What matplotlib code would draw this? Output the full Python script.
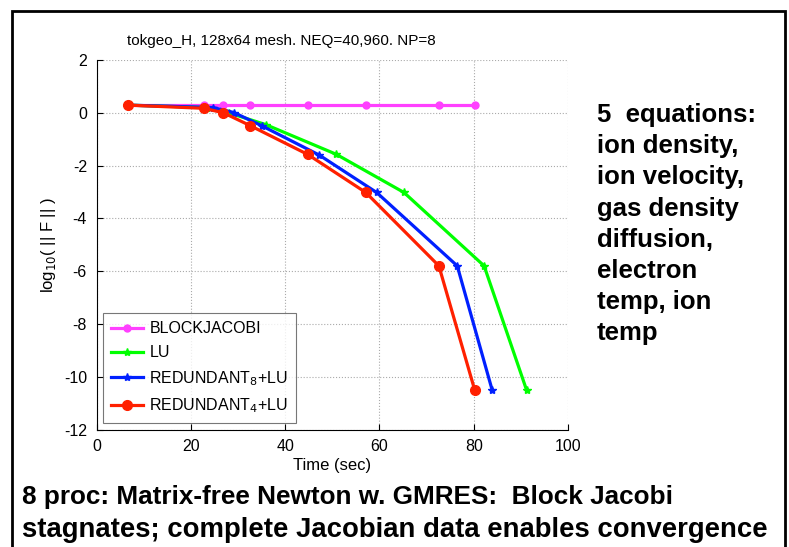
import matplotlib
matplotlib.use('Agg')
import matplotlib.pyplot as plt
from matplotlib.patches import Rectangle

plt.rcParams['font.family'] = ['Liberation Sans', 'DejaVu Sans']
plt.rcParams['axes.unicode_minus'] = False

# data
bj_time = [6.6, 22.7, 26.9, 32.6, 44.8, 57.1, 72.7, 80.2]
bj_res = [0.29, 0.29, 0.29, 0.29, 0.29, 0.29, 0.29, 0.29]

lu_time = [6.6, 23.5, 28.0, 35.9, 50.8, 65.2, 82.2, 91.2]
lu_res = [0.29, 0.2, 0.0, -0.45, -1.57, -3.02, -5.8, -10.5]

r8_time = [6.6, 24.7, 29.1, 35.0, 47.2, 59.4, 76.5, 83.9]
r8_res = [0.29, 0.2, 0.01, -0.49, -1.6, -3.02, -5.8, -10.5]

r4_time = [6.6, 22.7, 26.9, 32.6, 44.8, 57.1, 72.6, 80.2]
r4_res = [0.29, 0.17, 0.0, -0.49, -1.58, -3.02, -5.8, -10.5]

x_ticks = [0, 20, 40, 60, 80, 100]
y_ticks = [2, 0, -2, -4, -6, -8, -10, -12]

side_lines = ['5  equations:', 'ion density,', 'ion velocity,', 'gas density',
              'diffusion,', 'electron', 'temp, ion', 'temp']
bottom_lines = ['8 proc: Matrix-free Newton w. GMRES:  Block Jacobi',
                'stagnates; complete Jacobian data enables convergence']
bottom_sizes = [18.8, 19.8]

W, H = 789, 547
fig = plt.figure(figsize=(W / 100, H / 100), dpi=100)

# slide frame
fig.add_artist(Rectangle((12 / W, -0.02), 773 / W, 1 - 11 / H + 0.02,
                         transform=fig.transFigure, fill=False,
                         edgecolor='black', linewidth=2))

ax = fig.add_axes([96.7 / W, 1 - 429.5 / H, 471.3 / W, 369.5 / H])
ax.plot(bj_time, bj_res, color='#ff40ff', lw=2.3, marker='o', ms=5, label='BLOCKJACOBI')
ax.plot(lu_time, lu_res, color='#00ff00', lw=2.3, marker='*', ms=6, label='LU')
ax.plot(r8_time, r8_res, color='#0020ff', lw=2.3, marker='*', ms=6,
        label='REDUNDANT$_8$+LU')
ax.plot(r4_time, r4_res, color='#ff2000', lw=2.3, marker='o', ms=7,
        label='REDUNDANT$_4$+LU')

ax.set_xlim(0, 100)
ax.set_ylim(-12, 2)
ax.set_xticks(x_ticks)
ax.set_yticks(y_ticks)
ax.tick_params(direction='in', labelsize=11.5, length=4, pad=7)
ax.grid(True, linestyle=':', color='#aaaaaa', linewidth=0.8)
for s in ['top', 'right']:
    ax.spines[s].set_visible(False)
ax.set_xlabel('Time (sec)', fontsize=12, labelpad=3)
ax.set_ylabel('log$_{10}$( || F || )', fontsize=12)

fig.text(281 / W, 1 - 45 / H, 'tokgeo_H, 128x64 mesh. NEQ=40,960. NP=8',
         fontsize=11, ha='center', va='baseline')

leg = ax.legend(loc='lower left', fontsize=11.5, frameon=True, fancybox=False,
                edgecolor='#555555', handlelength=2.0, handletextpad=0.4,
                borderaxespad=0.4, labelspacing=0.55, borderpad=0.5)
leg.get_frame().set_linewidth(0.8)

for i, line in enumerate(side_lines):
    fig.text(597 / W, 1 - (122 + 31.2 * i) / H, line, fontsize=18.5,
             fontweight='bold', ha='left', va='baseline')

for i, line in enumerate(bottom_lines):
    fig.text(22 / W, 1 - (504 + 33 * i) / H, line, fontsize=bottom_sizes[i],
             fontweight='bold', ha='left', va='baseline')

fig.savefig('out.png', dpi=100)
